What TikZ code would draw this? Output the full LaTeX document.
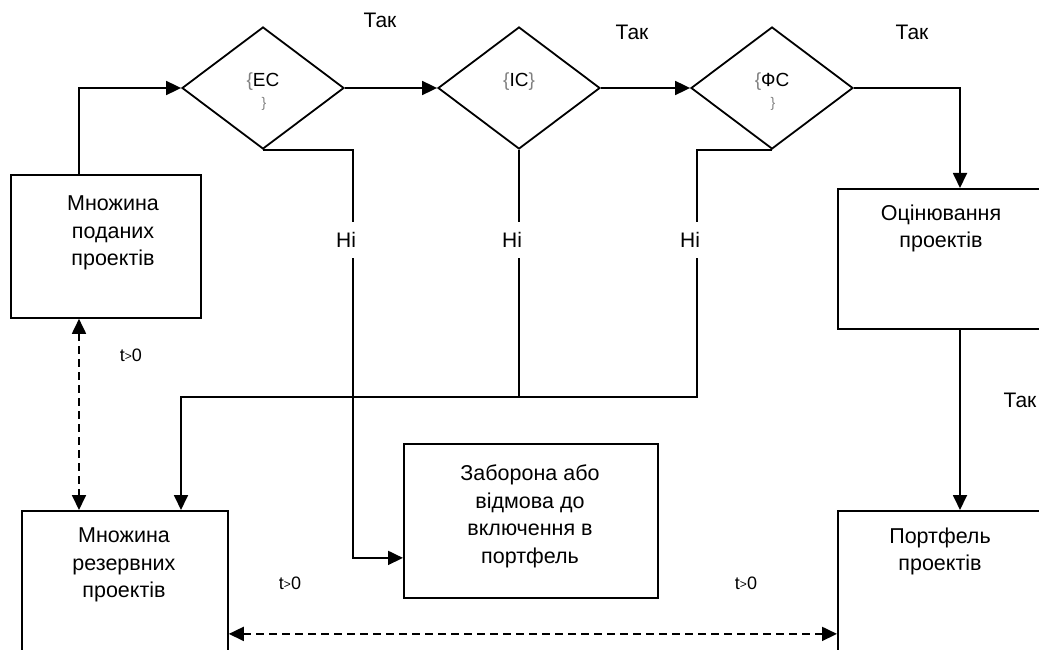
\documentclass[tikz,border=0pt]{standalone}
\usepackage{fontspec}
\setmainfont{Liberation Sans}
\usetikzlibrary{arrows.meta,shapes.geometric}
\begin{document}
\begin{tikzpicture}[x=1pt,y=-1pt,
  line width=1.8pt,
  box/.style={draw=black, rectangle, anchor=north west, inner sep=0pt},
  txt/.style={align=center, font=\fontsize{21.5}{27.5}\selectfont, inner sep=0pt, anchor=north},
  lbl/.style={font=\fontsize{21}{24}\selectfont, inner sep=0pt},
  nolbl/.style={lbl, fill=white, inner xsep=2pt, inner ysep=10pt},
  tlbl/.style={font=\fontsize{18}{20}\selectfont, inner sep=0pt},
  dtxt/.style={font=\fontsize{19}{20}\selectfont, inner sep=0pt},
  brace/.style={font=\fontsize{14}{14}\selectfont, text=gray, inner sep=0pt},
  dia/.style={draw=black, diamond, minimum width=162pt, minimum height=122pt, inner sep=0pt},
  arr/.style={-{Triangle[length=15pt,width=14pt]}},
  darr/.style={{Triangle[length=15pt,width=14pt]}-{Triangle[length=15pt,width=14pt]},
               dash pattern=on 8pt off 5pt},
]
\useasboundingbox (0,0) rectangle (1039,650);
\clip (0,0) rectangle (1039,650);

% boxes
\node[box, minimum width=190pt, minimum height=143pt] (b1) at (10,174) {};
\node[box, minimum width=208pt, minimum height=140pt] (b2) at (837,188) {};
\node[box, minimum width=208pt, minimum height=170pt] (b3) at (837,510) {};
\node[box, minimum width=206pt, minimum height=170pt] (b4) at (21,510) {};
\node[box, minimum width=254pt, minimum height=154pt] (b5) at (403,443) {};

% box texts
\node[txt] (b1t) at (113,195) {Множина\\поданих\\проектів};
\node[txt] (b2t) at (941,204) {Оцінювання\\проектів};
\node[txt] (b3t) at (940,527) {Портфель\\проектів};
\node[txt] (b4t) at (124,527) {Множина\\резервних\\проектів};
\node[txt] (b5t) at (530,464) {Заборона або\\відмова до\\включення в\\портфель};

% decision diamonds
\node[dia] (d1) at (263,88) {};
\node[dia] (d2) at (519,88) {};
\node[dia] (d3) at (772,88) {};
\node[dtxt] (d1t) at (263,82) {\textcolor{gray}{\{}ЕС};
\node[brace] (d1b) at (264,104) {\}};
\node[dtxt] (d2t) at (519,82) {\textcolor{gray}{\{}ІС\textcolor{gray}{\}}};
\node[dtxt] (d3t) at (772,82) {\textcolor{gray}{\{}ФС};
\node[brace] (d3b) at (773,104) {\}};

% main flow
\draw[arr] ([xshift=69pt]b1.north west) |- (d1.west);
\draw[arr] (d1.east) -- (d2.west);
\draw[arr] (d2.east) -- (d3.west);
\draw[arr] (d3.east) -| ([xshift=123pt]b2.north west);
\draw[arr] ([xshift=123pt]b2.south west) -- ([xshift=123pt]b3.north west);

% rejection branches
\coordinate (r1) at (353,300);
\coordinate (j3) at (697,397);
\draw[arr] (d1.south) -| (r1) |- ([yshift=-37pt]b5.west);
\draw (d2.south) -- (d2.south |- j3);
\draw[arr] (d3.south) -| (j3) -| ([xshift=160pt]b4.north west);

% time links
\draw[darr] ([xshift=69pt]b1.south west) -- ([xshift=58pt]b4.north west);
\draw[darr] ([yshift=-38pt]b4.east) -- ([yshift=-38pt]b3.west);

% labels
\node[lbl] (y1) at (380,20) {Так};
\node[lbl] (y2) at (632,32) {Так};
\node[lbl] (y3) at (912,32) {Так};
\node[lbl] (y4) at (1020,400) {Так};
\node[nolbl] (n1) at (346,240) {Ні};
\node[nolbl] (n2) at (512,240) {Ні};
\node[nolbl] (n3) at (690,240) {Ні};
\node[tlbl] (t1) at (131,355) {t\raisebox{1pt}{\fontsize{12}{12}\selectfont >}0};
\node[tlbl] (t2) at (290,583) {t\raisebox{1pt}{\fontsize{12}{12}\selectfont >}0};
\node[tlbl] (t3) at (746,583) {t\raisebox{1pt}{\fontsize{12}{12}\selectfont >}0};
\end{tikzpicture}
\end{document}
